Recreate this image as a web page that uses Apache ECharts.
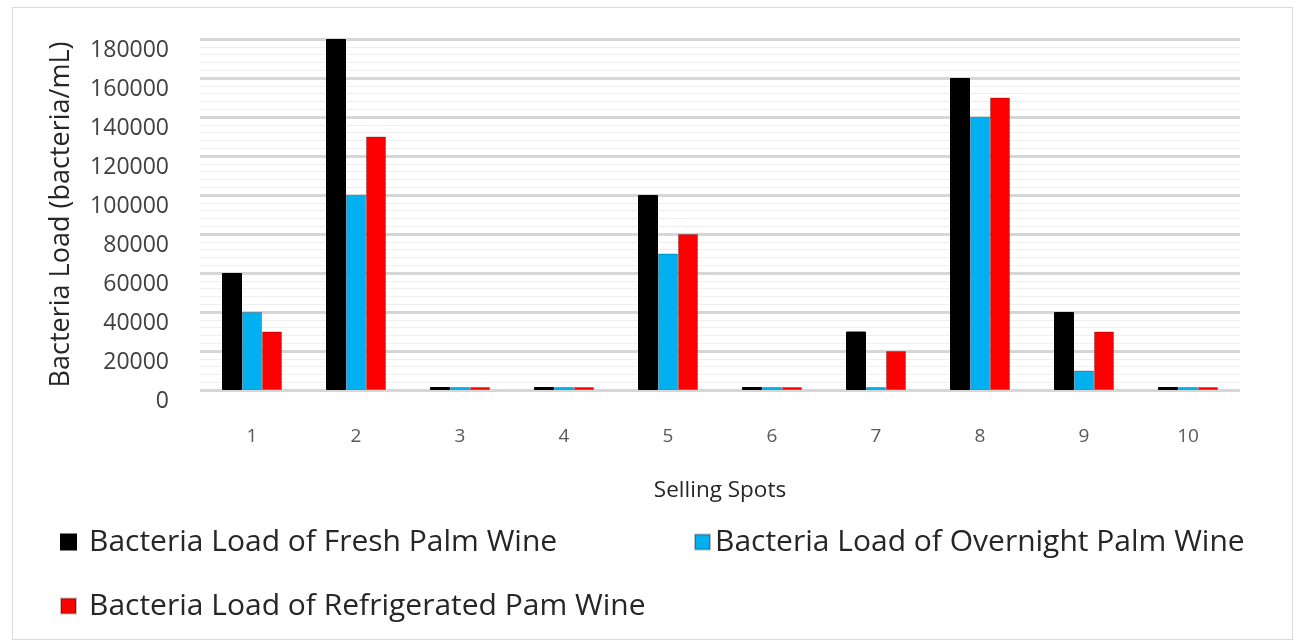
<!DOCTYPE html>
<html>
<head>
<meta charset="utf-8">
<script src="https://cdn.jsdelivr.net/npm/echarts@6/dist/echarts.min.js"></script>
<style>
html,body{margin:0;padding:0;background:#fff;}
#chart{width:1296px;height:642px;position:absolute;left:0;top:0;}
#frame{position:absolute;left:12px;top:7px;width:1279px;height:631px;border:1px solid #d9d9d9;pointer-events:none;}
</style>
</head>
<body>
<div id="chart"></div>
<div id="frame"></div>
<script>
const categories = ['1','2','3','4','5','6','7','8','9','10'];
const seriesNames = [
  'Bacteria Load of Fresh Palm Wine',
  'Bacteria Load of Overnight Palm Wine',
  'Bacteria Load of Refrigerated Pam Wine'
];
const freshValues = [60000, 180000, 0, 0, 100000, 0, 30000, 160000, 40000, 0];
const overnightValues = [40000, 100000, 0, 0, 70000, 0, 0, 140000, 10000, 0];
const refrigeratedValues = [30000, 130000, 0, 0, 80000, 0, 20000, 150000, 30000, 0];
const yTicks = [0, 20000, 40000, 60000, 80000, 100000, 120000, 140000, 160000, 180000];
const colors = ['#000000', '#00b0f0', '#ff0000'];

const chart = echarts.init(document.getElementById('chart'), null, {renderer: 'canvas'});
const font = '"Open Sans", "Noto Sans", sans-serif';

function legendFor(i, left, top, pad) {
  return {
    show: true,
    left: left, top: top,
    data: [seriesNames[i]],
    icon: 'rect',
    itemWidth: 15, itemHeight: 15,
    selectedMode: false,
    textStyle: {fontFamily: font, fontSize: 30, color: '#262626', padding: [0,0,0,pad]}
  };
}

const mkSeries = (i, vals) => ({
  name: seriesNames[i],
  type: 'bar',
  data: vals,
  barWidth: 20,
  barGap: '0%',
  barMinHeight: 3,
  itemStyle: {color: colors[i], borderColor: i === 0 ? '#000' : 'rgba(0,0,0,0.25)', borderWidth: 1}
});

chart.setOption({
  animation: false,
  backgroundColor: '#ffffff',
  legend: [
    legendFor(0, 55, 522, 8),
    legendFor(1, 689, 522, 0),
    legendFor(2, 55, 586, 8)
  ],
  grid: {left: 200, right: 56, top: 39, bottom: 252, containLabel: false},
  xAxis: {
    type: 'category',
    data: categories,
    name: 'Selling Spots',
    nameLocation: 'middle',
    nameGap: 89,
    nameTextStyle: {fontFamily: font, fontSize: 22.5, color: '#262626'},
    axisLine: {show: false},
    axisTick: {show: false},
    axisLabel: {fontFamily: font, fontSize: 19, color: '#595959', margin: 37}
  },
  yAxis: {
    type: 'value',
    min: 0, max: 180000, interval: 20000,
    name: 'Bacteria Load (bacteria/mL)',
    nameLocation: 'middle',
    nameGap: 125,
    nameTextStyle: {fontFamily: font, fontSize: 27, color: '#262626'},
    axisLine: {show: false},
    axisTick: {show: false},
    axisLabel: {
      fontFamily: font, fontSize: 23, color: '#404040', margin: 31,
      verticalAlign: 'top',
      formatter: v => yTicks.includes(v) ? String(v) : ''
    },
    splitLine: {show: true, lineStyle: {color: '#d6d6d6', width: 3}},
    minorTick: {show: false, splitNumber: 5},
    minorSplitLine: {show: true, lineStyle: {color: '#efefef', width: 1}}
  },
  series: [
    mkSeries(0, freshValues),
    mkSeries(1, overnightValues),
    mkSeries(2, refrigeratedValues)
  ]
});
</script>
</body>
</html>
